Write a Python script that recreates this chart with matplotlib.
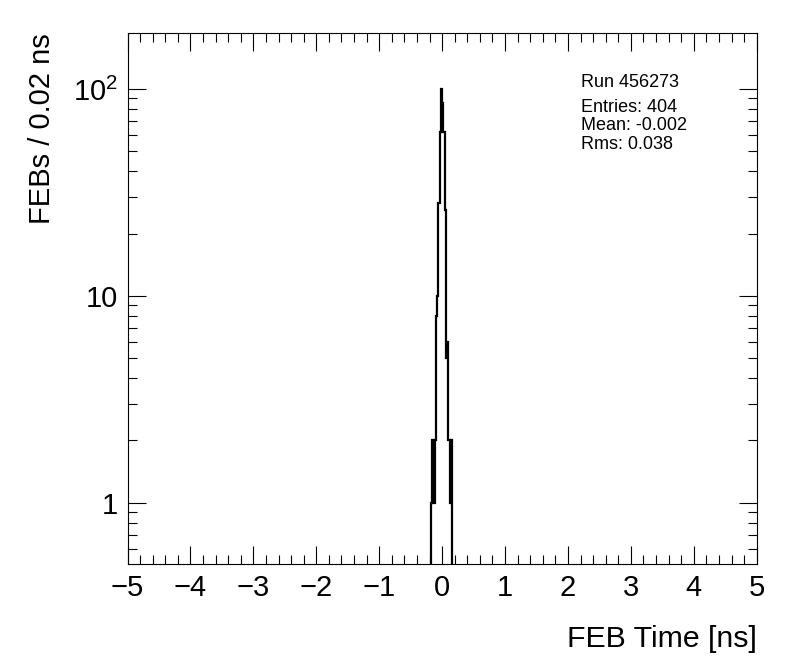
import numpy as np
import matplotlib
matplotlib.use("Agg")
import matplotlib.pyplot as plt
from matplotlib.ticker import FixedLocator, FixedFormatter, MultipleLocator, LogLocator, NullFormatter

plt.rcParams['font.family'] = ['Liberation Sans', 'DejaVu Sans']
plt.rcParams['mathtext.fontset'] = 'custom'
plt.rcParams['mathtext.rm'] = 'Liberation Sans'

# histogram of FEB times, 0.02 ns bins, only non-empty region listed
bin_width = 0.02
first_edge = -0.18
counts = [1, 2, 1, 2, 8, 10, 28, 62, 100, 86, 62, 26, 5, 6, 2, 1, 2]

run_label = "Run 456273"
stats_lines = ["Entries: 404", "Mean: -0.002", "Rms: 0.038"]

x_ticks = [-5, -4, -3, -2, -1, 0, 1, 2, 3, 4, 5]
y_ticks = [1, 10, 100]
y_tick_labels = ["1", "10", "$10^{2}$"]

edges = first_edge + bin_width * np.arange(len(counts) + 1)

fig = plt.figure(figsize=(7.96, 6.72), dpi=100)
ax = fig.add_axes([127.5 / 796, 1 - 564 / 672, (756.7 - 127.5) / 796, (564 - 33.3) / 672])

ax.stairs(counts, edges, baseline=1e-3, color='black', linewidth=1.6)

ax.set_yscale('log')
ax.set_xlim(-5, 5)
ax.set_ylim(0.505, 186)

ax.xaxis.set_major_locator(FixedLocator(x_ticks))
ax.xaxis.set_minor_locator(MultipleLocator(0.2))
ax.yaxis.set_major_locator(FixedLocator(y_ticks))
ax.yaxis.set_major_formatter(FixedFormatter(y_tick_labels))
ax.yaxis.set_minor_locator(LogLocator(base=10, subs=np.arange(2, 10)))
ax.yaxis.set_minor_formatter(NullFormatter())

ax.tick_params(which='both', direction='in', top=True, right=True, width=0.8)
ax.tick_params(which='major', length=13, labelsize=21, pad=7)
ax.tick_params(which='minor', length=6.5)
for sp in ax.spines.values():
    sp.set_linewidth(0.8)

ax.set_xlabel("FEB Time [ns]", fontsize=21.8, loc='right', labelpad=17)
ax.set_ylabel("FEBs / 0.02 ns", fontsize=21, loc='top', labelpad=12)

fig.text(581 / 796, 1 - 87 / 672, run_label, fontsize=13, va='baseline')
for i, line in enumerate(stats_lines):
    fig.text(581 / 796, 1 - (111.7 + 18.8 * i) / 672, line, fontsize=13, va='baseline')

fig.savefig("out.png", dpi=100)
